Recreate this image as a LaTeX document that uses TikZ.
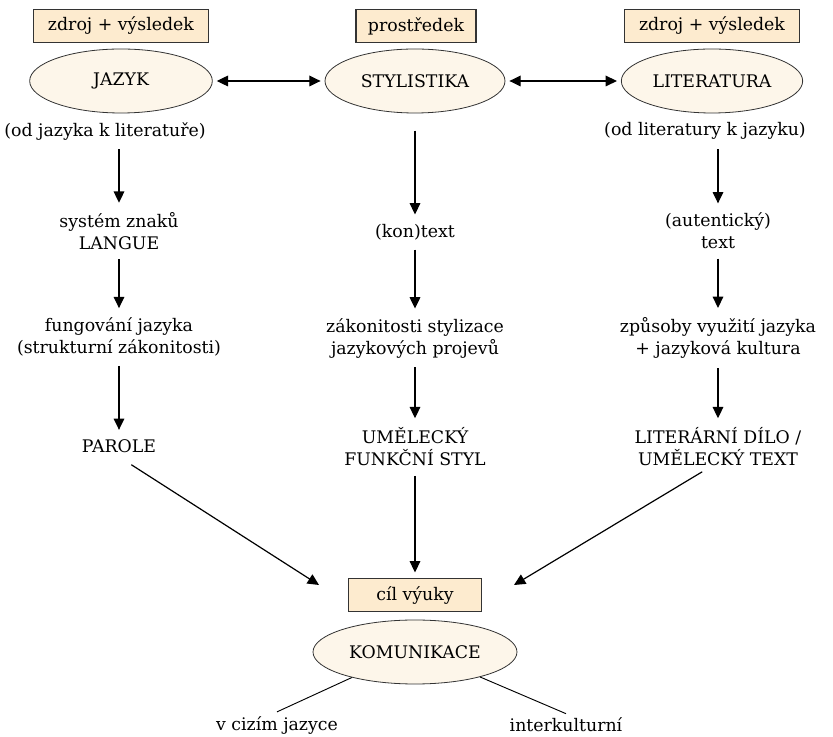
\documentclass[tikz,border=0pt]{standalone}
\usepackage{fontspec}
\setmainfont{DejaVu Serif}
\usetikzlibrary{shapes.geometric,arrows.meta}
\definecolor{tagfill}{HTML}{FDEBCF}
\definecolor{ovalfill}{HTML}{FDF6EA}
\definecolor{edge}{HTML}{333333}
\tikzset{
  tag/.style={draw=edge, line width=0.8pt, fill=tagfill, minimum height=25pt, inner sep=0pt},
  oval/.style={ellipse, draw=edge, line width=0.6pt, fill=ovalfill, minimum width=137pt, minimum height=48pt, inner sep=0pt},
  txt/.style={align=center, inner sep=3pt},
  arr/.style={-{Triangle[length=8.5pt,width=8pt]}, line width=0.9pt, shorten <=4pt, shorten >=4pt},
  twoarr/.style={{Triangle[length=8.5pt,width=8pt]}-{Triangle[length=8.5pt,width=8pt]}, line width=0.9pt, shorten <=3pt, shorten >=3pt},
  plain/.style={line width=0.7pt}
}
\begin{document}
\begin{tikzpicture}[x=0.75pt, y=-0.75pt, font=\fontsize{13}{16.5}\selectfont]
    \useasboundingbox (0,0) rectangle (833,737);

    % top row
    \node[tag, minimum width=131pt] (tagJ) at (121,26) {zdroj + výsledek};
    \node[tag, minimum width=90pt] (tagS) at (416,26) {prostředek};
    \node[tag, minimum width=131pt] (tagL) at (712,26) {zdroj + výsledek};
    \node[oval] (jazyk) at (121,81) {JAZYK};
    \node[oval, minimum width=135pt] (styl) at (415,81) {STYLISTIKA};
    \node[oval, minimum width=136pt] (lit) at (712,81) {LITERATURA};
    \draw[twoarr] (jazyk) -- (styl);
    \draw[twoarr] (styl) -- (lit);
    \node[txt] (odjaz) at (105,131) {(od jazyka k literatuře)};
    \node[txt] (odlit) at (705,131) {(od literatury k jazyku)};

    % left column
    \node[txt] (langue) at (119,231) {systém znaků\\LANGUE};
    \node[txt] (fung) at (119,337) {fungování jazyka\\(strukturní zákonitosti)};
    \node[txt] (parole) at (119,446) {PAROLE};
    \draw[arr] (odjaz.south -| langue) -- (langue);
    \draw[arr] (langue) -- (fung);
    \draw[arr] (fung) -- (parole);

    % middle column
    \node[txt] (kontext) at (415,232) {(kon)text};
    \node[txt] (zakon) at (415,338) {zákonitosti stylizace\\jazykových projevů};
    \node[txt] (umel) at (415,447) {UMĚLECKÝ\\FUNKČNÍ STYL};
    \draw[arr, shorten <=13pt] (styl) -- (kontext);
    \draw[arr] (kontext) -- (zakon);
    \draw[arr] (zakon) -- (umel);

    % right column
    \node[txt] (autent) at (718,231) {(autentický)\\text};
    \node[txt] (zpusob) at (718,338) {způsoby využití jazyka\\+ jazyková kultura};
    \node[txt] (litdilo) at (718,447) {LITERÁRNÍ DÍLO /\\UMĚLECKÝ TEXT};
    \draw[arr] (odlit.south -| autent) -- (autent);
    \draw[arr] (autent) -- (zpusob);
    \draw[arr] (zpusob) -- (litdilo);

    % goal
    \node[tag, minimum width=100pt] (cil) at (415,595) {cíl výuky};
    \node[oval, minimum width=153pt] (komun) at (415,652) {KOMUNIKACE};
    \coordinate (inL) at (319,585);
    \coordinate (inR) at (514,585);
    \draw[arr, shorten <=11pt, shorten >=0pt] (parole.south) -- (inL);
    \draw[arr, shorten <=2pt, shorten >=0pt] (litdilo.-120) -- (inR);
    \draw[arr] (umel) -- (cil);
    \node[txt] (cizi) at (277,725) {v cizím jazyce};
    \node[txt] (inter) at (566,725) {interkulturní};
    \draw[plain] (komun.202) -- (cizi.north);
    \draw[plain] (komun.339) -- (inter.north);
\end{tikzpicture}
\end{document}
